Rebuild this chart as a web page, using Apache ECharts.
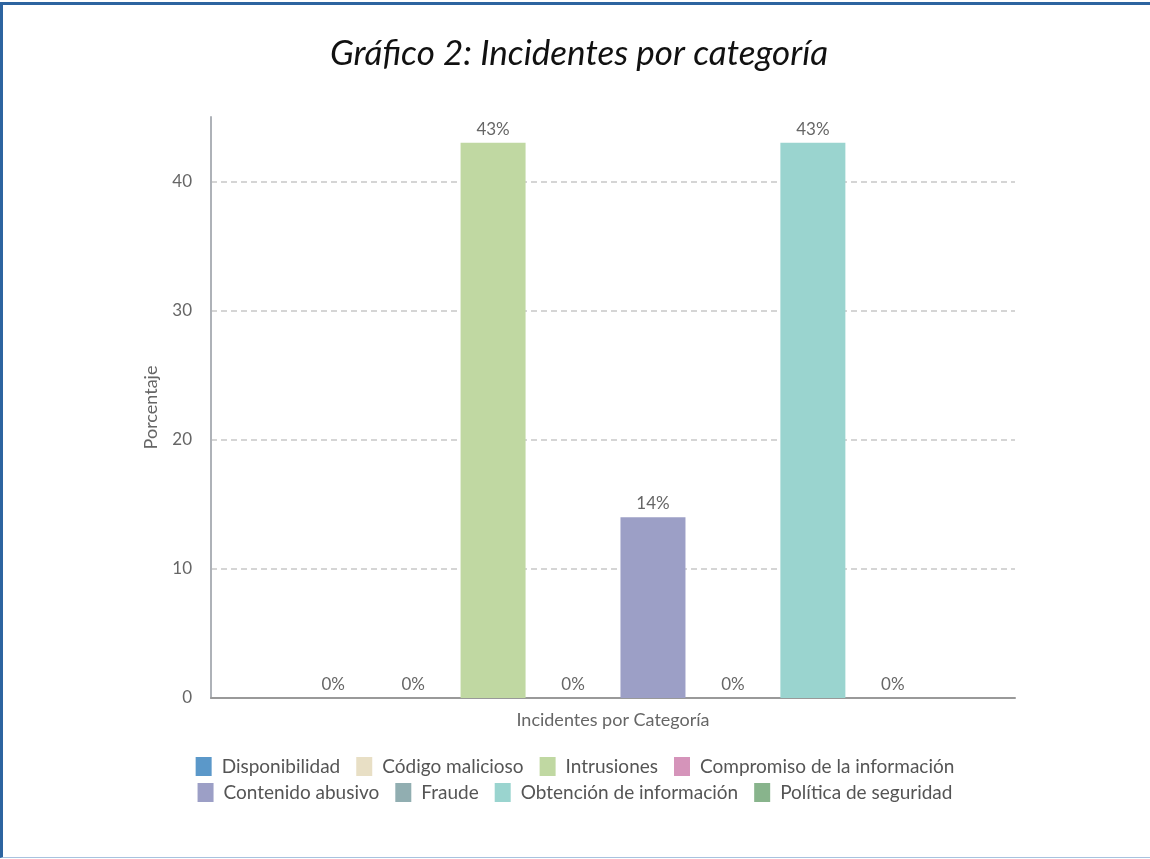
<!DOCTYPE html>
<html>
<head>
<meta charset="utf-8">
<title>Gráfico 2</title>
<script src="https://cdn.jsdelivr.net/npm/echarts@6/dist/echarts.min.js"></script>
<style>
    html, body { margin: 0; padding: 0; background: #fff; }
    #frame {
        position: absolute; left: 0; top: 2px; width: 1150px; height: 856px;
        border-top: 3px solid #2d64a0; border-left: 3px solid #2d64a0;
        border-bottom: 1px solid #a8c2df; box-sizing: border-box;
    }
    #main { position: absolute; left: 0; top: 0; width: 1150px; height: 859px; }
</style>
</head>
<body>
<div id="frame"></div>
<div id="main"></div>
<script>
// datos del gráfico
var categorias = ['Incidentes por Categoría'];
var series_nombres = ['Disponibilidad', 'Código malicioso', 'Intrusiones', 'Compromiso de la información',
    'Contenido abusivo', 'Fraude', 'Obtención de información', 'Política de seguridad'];
var porcentajes = [0, 0, 43, 0, 14, 0, 43, 0];
var colores = ['#5b98c9', '#e8dfc5', '#c0d8a2', '#d594ba', '#9c9fc6', '#91aeb1', '#9ad4cf', '#88b48c'];

var myChart = echarts.init(document.getElementById('main'));

var series = [];
for (var i = 0; i < series_nombres.length; i++) {
    series.push({
        name: series_nombres[i],
        type: 'bar',
        barWidth: 65,
        barGap: '23%',
        data: [porcentajes[i]],
        itemStyle: { color: colores[i] },
        label: {
            show: true,
            position: 'top',
            formatter: '{c}%',
            color: '#666',
            fontFamily: 'Lato',
            fontSize: 17,
            distance: 5
        }
    });
}

// leyenda en dos filas
var leyenda = function (nombres, top) {
    return {
        data: nombres,
        left: 'center',
        top: top,
        itemWidth: 16,
        itemHeight: 19,
        itemGap: 16,
        icon: 'rect',
        textStyle: { fontFamily: 'Lato', fontSize: 19, color: '#555', padding: [0, 0, 0, 5] }
    };
};

var option = {
    animation: false,
    color: colores,
    title: {
        text: 'Gráfico 2: Incidentes por categoría',
        left: 325,
        top: 31,
        textStyle: {
            fontFamily: 'Lato',
            fontStyle: 'italic',
            fontWeight: 'normal',
            fontSize: 35,
            color: '#111'
        }
    },
    legend: [
        leyenda(series_nombres.slice(0, 4), 752),
        leyenda(series_nombres.slice(4), 778)
    ],
    grid: { left: 211, right: 135, top: 117, bottom: 161 },
    xAxis: [{
        type: 'category',
        data: categorias,
        name: 'Incidentes por Categoría',
        nameLocation: 'middle',
        nameGap: 13,
        nameTextStyle: { fontFamily: 'Lato', fontSize: 18, color: '#666' },
        axisLine: { lineStyle: { color: '#999', width: 2 } },
        axisTick: { show: false },
        axisLabel: { show: false }
    }],
    yAxis: [{
        type: 'value',
        min: 0,
        max: 45,
        interval: 10,
        name: 'Porcentaje',
        nameLocation: 'middle',
        nameGap: 51,
        nameTextStyle: { fontFamily: 'Lato', fontSize: 18, color: '#666' },
        axisLine: { show: true, lineStyle: { color: '#aeb2b8', width: 2 } },
        axisTick: { show: false },
        axisLabel: { fontFamily: 'Lato', fontSize: 17, color: '#666', margin: 19, showMaxLabel: false },
        splitLine: { showMaxLine: false, lineStyle: { type: [6, 4], color: '#c8c8c8', width: 1.5 } }
    }],
    series: series
};
myChart.setOption(option);
</script>
</body>
</html>
